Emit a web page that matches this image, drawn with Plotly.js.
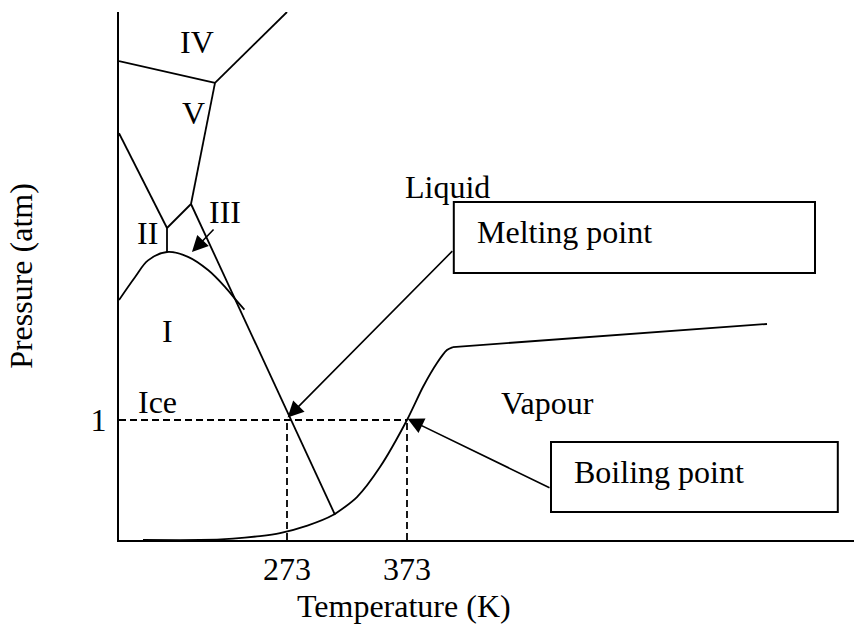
<!DOCTYPE html>
<html>
<head>
<meta charset="utf-8">
<script src="https://cdn.plot.ly/plotly-3.0.1.min.js"></script>
<style>html,body{margin:0;padding:0;background:#fff;}#chart{width:854px;height:630px;}</style>
</head>
<body>
<div id="chart"></div>
<script>
// Schematic phase diagram of water (temperature in K, pressure in schematic units where 1 = 1 atm)
// Phase boundary lines
const ivVT = [133, 213];           const ivVP = [3.99, 3.81];
const ivLiqT = [213, 273];         const ivLiqP = [3.81, 4.4];
const vLiqT = [213, 193];          const vLiqP = [3.81, 2.8];
const iiVT = [133, 173];           const iiVP = [3.39, 2.6];
const iiIIIT = [173, 193];         const iiIIIP = [2.6, 2.8];
const meltT = [193, 313];          const meltP = [2.8, 0.21];
const iiVertT = [173, 173];        const iiVertP = [2.6, 2.4];
const iCurveT = [133, 146.3, 157.2, 173, 190.5, 207.2, 221.3, 231.3, 237.5];
const iCurveP = [2.0, 2.19, 2.33, 2.4, 2.36, 2.25, 2.11, 1.99, 1.92];
const vapT = [153, 200.5, 228, 250.5, 267.2, 290, 311.3, 331.3, 350.5, 373, 386.3, 398, 406.3, 411.3];
const vapP = [0, 0, 0.012, 0.033, 0.058, 0.12, 0.208, 0.358, 0.608, 1.0, 1.275, 1.475, 1.583, 1.608];
const highT = [411.3, 673];        const highP = [1.608, 1.8];
// Reference (dashed) lines
const refHT = [133, 373];          const refHP = [1, 1];
const refMeltT = [273, 273];       const refMeltP = [0, 1];
const refBoilT = [373, 373];       const refBoilP = [0, 1];
// Tick labels
const xTickVals = [273, 373];      const xTickText = ['273', '373'];
const yTickVals = [1];             const yTickText = ['1'];
// Region labels
const regionNames = ['IV', 'V', 'II', 'III', 'I', 'Ice', 'Liquid', 'Vapour'];
const regionT = [198, 195, 157, 221, 173, 164.7, 407, 489.7];
const regionP = [4.15, 3.56, 2.56, 2.73, 1.74, 1.15, 2.94, 1.14];
// Callouts
const calloutText = ['Melting point', 'Boiling point'];
const calloutHeadT = [273.5, 373.5];  const calloutHeadP = [1.02, 1.01];
const calloutTailT = [412, 493];    const calloutTailP = [2.42, 0.43];
const calloutBoxT0 = [412, 493];    const calloutBoxT1 = [713, 732];
const calloutBoxP0 = [2.225, 0.233]; const calloutBoxP1 = [2.817, 0.817];
const calloutTextT = [429.7, 510.5]; const calloutTextP = [2.567, 0.567];
// III arrow
const iiiHeadT = 193.8, iiiHeadP = 2.4, iiiTailT = 213, iiiTailP = 2.6;
// Axis titles
const xTitle = 'Temperature (K)';
const yTitle = 'Pressure (atm)';

const FONT = 'Liberation Serif, Times New Roman, serif';
const FS = 32;
const LW = 1.8;

function line(x, y, opts) {
  return Object.assign({x: x, y: y, mode: 'lines', type: 'scatter', hoverinfo: 'skip',
    line: {color: '#000', width: LW}, showlegend: false}, opts || {});
}
const dashLine = {color: '#000', width: LW, dash: '7px,4px'};

const traces = [
  line(ivVT, ivVP), line(ivLiqT, ivLiqP), line(vLiqT, vLiqP), line(iiVT, iiVP),
  line(iiIIIT, iiIIIP), line(meltT, meltP), line(iiVertT, iiVertP),
  line(iCurveT, iCurveP, {line: {color: '#000', width: LW, shape: 'spline', smoothing: 1}}),
  line(vapT, vapP, {line: {color: '#000', width: LW, shape: 'spline', smoothing: 0.7}}),
  line(highT, highP),
  line(refHT, refHP, {line: dashLine}),
  line(refMeltT, refMeltP, {line: dashLine}),
  line(refBoilT, refBoilP, {line: dashLine})
];

const annotations = [];
regionNames.forEach((t, i) => annotations.push({
  x: regionT[i], y: regionP[i], xref: 'x', yref: 'y', text: t, showarrow: false,
  font: {family: FONT, size: FS, color: '#000'}, xanchor: 'center', yanchor: 'middle'
}));
calloutText.forEach((t, i) => {
  annotations.push({x: calloutTextT[i], y: calloutTextP[i], xref: 'x', yref: 'y', text: t,
    showarrow: false, font: {family: FONT, size: FS, color: '#000'}, xanchor: 'left', yanchor: 'middle'});
  annotations.push({x: calloutHeadT[i], y: calloutHeadP[i], xref: 'x', yref: 'y',
    ax: calloutTailT[i], ay: calloutTailP[i], axref: 'x', ayref: 'y', text: '',
    showarrow: true, arrowhead: 2, arrowsize: 2.0, arrowwidth: 1.6, arrowcolor: '#000', standoff: 0});
});
annotations.push({x: iiiHeadT, y: iiiHeadP, xref: 'x', yref: 'y', ax: iiiTailT, ay: iiiTailP,
  axref: 'x', ayref: 'y', text: '', showarrow: true, arrowhead: 2, arrowsize: 2.0,
  arrowwidth: 1.6, arrowcolor: '#000', standoff: 0});
// x-axis title (placed left of plot centre, as in the reference)
annotations.push({x: 0.388, y: -0.125, xref: 'paper', yref: 'paper', text: xTitle, showarrow: false,
  font: {family: FONT, size: FS, color: '#000'}, xanchor: 'center', yanchor: 'middle'});

const shapes = calloutText.map((t, i) => ({
  type: 'rect', xref: 'x', yref: 'y', x0: calloutBoxT0[i], x1: calloutBoxT1[i],
  y0: calloutBoxP0[i], y1: calloutBoxP1[i], line: {color: '#000', width: 2}, fillcolor: 'rgba(0,0,0,0)'
}));

const layout = {
  width: 854, height: 630,
  margin: {l: 119, r: 0, t: 12, b: 90},
  paper_bgcolor: '#fff', plot_bgcolor: '#fff',
  font: {family: FONT, size: FS, color: '#000'},
  showlegend: false,
  xaxis: {
    range: [133, 745.5], showgrid: false, zeroline: false, showline: true,
    linecolor: '#000', linewidth: 2, ticks: '', tickvals: xTickVals, ticktext: xTickText,
    tickfont: {family: FONT, size: FS, color: '#000'}, ticklabelstandoff: 0,
    fixedrange: true
  },
  yaxis: {
    range: [0, 4.4], showgrid: false, zeroline: false, showline: true,
    linecolor: '#000', linewidth: 2, ticks: '', tickvals: yTickVals, ticktext: yTickText,
    tickfont: {family: FONT, size: FS, color: '#000'}, ticklabelstandoff: 4,
    title: {text: yTitle, font: {family: FONT, size: FS, color: '#000'}, standoff: 48},
    fixedrange: true
  },
  annotations: annotations,
  shapes: shapes
};

Plotly.newPlot('chart', traces, layout, {displayModeBar: false, staticPlot: true});
</script>
</body>
</html>
